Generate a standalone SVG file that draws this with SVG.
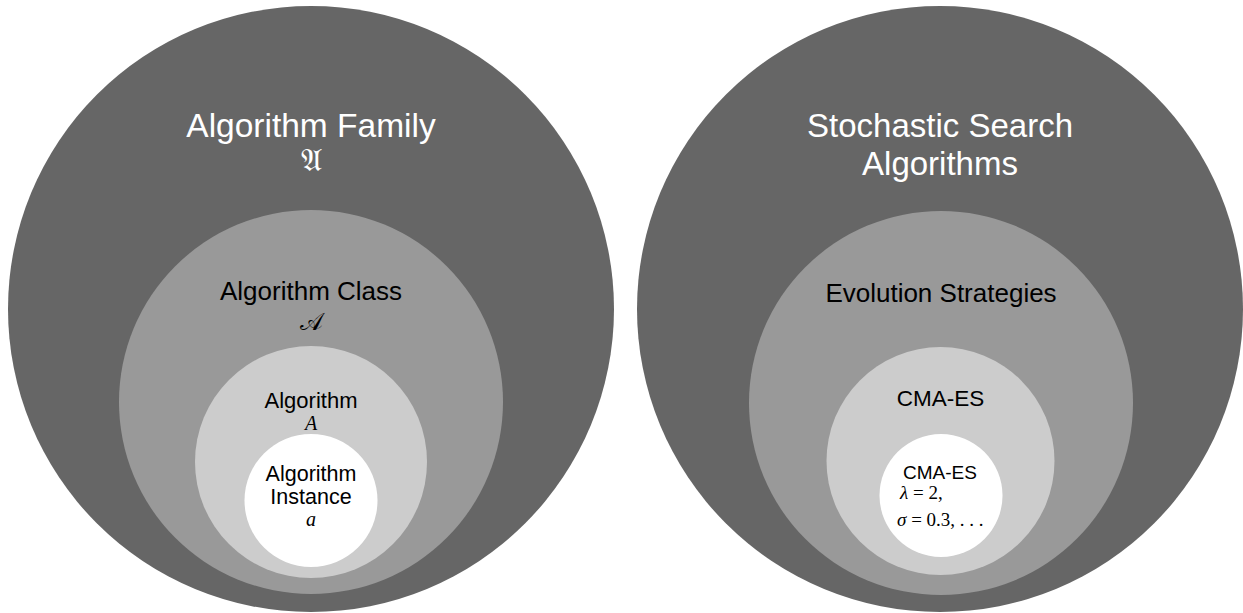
<svg xmlns="http://www.w3.org/2000/svg" width="1243" height="613" viewBox="0 0 1243 613">
<style>
.c1{fill:#666666}
.c2{fill:#999999}
.c3{fill:#cccccc}
.c4{fill:#ffffff}
.t{font-family:"Liberation Sans",Arial,Helvetica,sans-serif;text-anchor:middle}
.w{fill:#ffffff}
.k{fill:#000000}
.m{font-family:"Liberation Serif","DejaVu Serif",serif;font-style:italic;fill:#000000;text-anchor:middle}
.mu{font-family:"Liberation Serif","DejaVu Serif",serif;fill:#000000}
.sym{font-family:"DejaVu Serif","DejaVu Sans","Noto Sans",serif;text-anchor:middle}
</style>
<rect width="1243" height="613" fill="#ffffff"/>
<g id="algorithm-family">
<circle class="c1" cx="311" cy="309" r="303"/>
<text class="t w" x="311" y="137" font-size="33.5">Algorithm Family</text>
<text class="sym w" x="311" y="171" font-size="32">𝔄</text>
</g>
<g id="algorithm-class">
<circle class="c2" cx="311" cy="402" r="192"/>
<text class="t k" x="311" y="300" font-size="26">Algorithm Class</text>
<text class="sym k" x="311" y="330" font-size="24">𝒜</text>
</g>
<g id="algorithm">
<circle class="c3" cx="311" cy="462" r="116"/>
<text class="t k" x="311" y="408" font-size="22">Algorithm</text>
<text class="m" x="311" y="430" font-size="20">A</text>
</g>
<g id="algorithm-instance">
<circle class="c4" cx="311" cy="500.5" r="66.5"/>
<text class="t k" x="311" y="481" font-size="21.5">Algorithm</text>
<text class="t k" x="311" y="504" font-size="21.5">Instance</text>
<text class="m" x="311" y="526" font-size="20">a</text>
</g>
<g id="stochastic-search">
<circle class="c1" cx="940" cy="309" r="303"/>
<text class="t w" x="940" y="137" font-size="33">Stochastic Search</text>
<text class="t w" x="940" y="175" font-size="33">Algorithms</text>
</g>
<g id="evolution-strategies">
<circle class="c2" cx="941" cy="403" r="192"/>
<text class="t k" x="941" y="302" font-size="26">Evolution Strategies</text>
</g>
<g id="cma-es">
<circle class="c3" cx="940.5" cy="461" r="114"/>
<text class="t k" x="940.5" y="406" font-size="22.5">CMA-ES</text>
</g>
<g id="cma-es-instance">
<circle class="c4" cx="941" cy="495.5" r="61.5"/>
<text class="t k" x="940" y="479" font-size="19">CMA-ES</text>
<text class="mu" x="900" y="499" font-size="19"><tspan font-style="italic">λ</tspan> = 2,</text>
<text class="mu" x="897" y="526" font-size="19"><tspan font-style="italic">σ</tspan> = 0.3, . . .</text>
</g>
<g id="connectors"></g>
</svg>
